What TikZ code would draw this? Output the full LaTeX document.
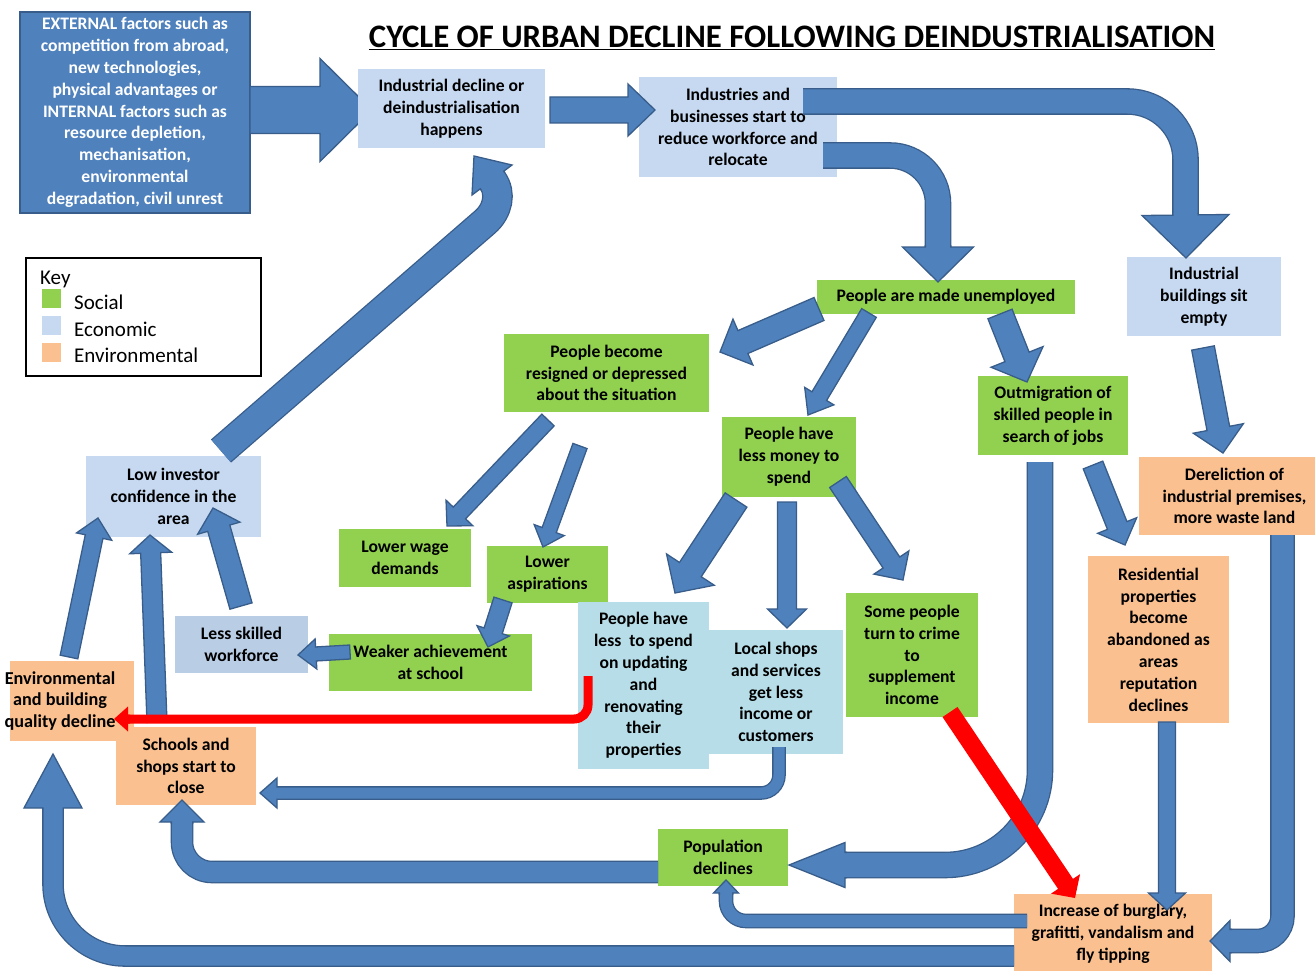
\documentclass[tikz,border=0pt]{standalone}
\usepackage{fontspec}
\setmainfont{Carlito}
\usetikzlibrary{calc}
\definecolor{abfill}{HTML}{4F81BD}
\definecolor{abord}{HTML}{385D8A}
\definecolor{econ}{HTML}{C6D9F1}
\definecolor{econb}{HTML}{B9CDE5}
\definecolor{soc}{HTML}{92D050}
\definecolor{envc}{HTML}{FAC090}
\definecolor{cyanb}{HTML}{B7DEE8}
\definecolor{redc}{HTML}{FF0000}
\newcommand\fs{\fontsize{17.6}{21.8}\selectfont}
\tikzset{
  bx/.style={inner sep=0pt, outer sep=0pt, draw=none, align=center, font=\fs\bfseries},
  shaft/.style={draw=abord, line width=1.3pt, double=abfill, double distance=#1},
  ahd/.style={fill=abfill, draw=abord, line width=1.3pt, line join=miter},
  rhd/.style={fill=redc, draw=none},
}
% head of a curved arrow: style, base, tip, half shaft, half head
\newcommand\ahead[5]{%
  \coordinate (hB) at (#2); \coordinate (hT) at (#3);
  \coordinate (hS) at ($(hB)!-2pt!(hT)$);
  \path[#1] ($(hS)!#4!90:(hT)$) -- ($(hB)!#4!90:(hT)$) -- ($(hB)!#5!90:(hT)$) -- (hT)
     -- ($(hB)!#5!-90:(hT)$) -- ($(hB)!#4!-90:(hT)$) -- ($(hS)!#4!-90:(hT)$);
}
% straight block arrow: style, tail, tip, half shaft, half head, head length
\newcommand\sarrow[6]{%
  \coordinate (sA) at (#2); \coordinate (sT) at (#3);
  \coordinate (sH) at ($(sT)!#6!(sA)$);
  \path[#1] ($(sA)!#4!90:(sT)$) -- ($(sH)!#4!90:(sT)$) -- ($(sH)!#5!90:(sT)$) -- (sT)
     -- ($(sH)!#5!-90:(sT)$) -- ($(sH)!#4!-90:(sT)$) -- ($(sA)!#4!-90:(sT)$) -- cycle;
}
\begin{document}
\begin{tikzpicture}[x=1pt,y=-1pt]
\useasboundingbox (0,0) rectangle (1315,971);
\fill[white] (0,0) rectangle (1315,971);

% external factors box
\node[bx, fill=abfill, draw=abord, line width=2.5pt, text=white, minimum width=230pt, minimum height=201pt] (ext) at (135,112.5)
 {EXTERNAL factors such as\\competition from abroad,\\new technologies,\\physical advantages or\\INTERNAL factors such as\\resource depletion,\\mechanisation,\\environmental\\degradation, civil unrest};

% arrow ext -> ind (under the box)
\coordinate (a1s) at (250,110); \coordinate (a1t) at (372,110);
\sarrow{ahd}{a1s}{a1t}{23.5pt}{51.5pt}{52pt}

% boxes
\node[bx, fill=econ, minimum width=187pt, minimum height=79pt] (ind) at (451.5,108.5) {Industrial decline or\\deindustrialisation\\happens};
\node[bx, fill=econ, minimum width=198pt, minimum height=100pt] (rel) at (738,127) {Industries and\\businesses start to\\reduce workforce and\\relocate};
\node[bx, fill=econ, minimum width=154pt, minimum height=79pt] (empty) at (1204,296.5) {Industrial\\buildings sit\\empty};
\node[bx, fill=soc, minimum width=258pt, minimum height=34pt] (unemp) at (946,297) {People are made unemployed};
\node[bx, fill=soc, minimum width=205pt, minimum height=78pt] (resig) at (606.5,373) {People become\\resigned or depressed\\about the situation};
\node[bx, fill=soc, minimum width=134pt, minimum height=80pt] (money) at (789,457) {People have\\less money to\\spend};
\node[bx, fill=soc, minimum width=150pt, minimum height=79pt] (outmig) at (1053,415.5) {Outmigration of\\skilled people in\\search of jobs};
\node[bx, fill=envc, minimum width=191pt, minimum height=78pt] (derel) at (1234.5,496) {Dereliction of\\industrial premises,\\more waste land};
\node[bx, fill=envc, minimum width=141pt, minimum height=167pt] (resid) at (1158.5,639.5) {Residential\\properties\\become\\abandoned as\\areas\\reputation\\declines};
\node[bx, fill=econ, minimum width=175pt, minimum height=81pt] (lowinv) at (173.5,496.5) {Low investor\\confidence in the\\area};
\node[bx, fill=soc, minimum width=132pt, minimum height=58pt] (wage) at (405,558) {Lower wage\\demands};
\node[bx, fill=soc, minimum width=121pt, minimum height=57pt] (aspir) at (547.5,574.5) {Lower\\aspirations};
\node[bx, fill=soc, minimum width=203pt, minimum height=57pt] (weak) at (430.5,662.5) {Weaker achievement\\at school};
\node[bx, fill=econb, minimum width=133pt, minimum height=57pt] (skill) at (241.5,644.5) {Less skilled\\workforce};
\node[bx, fill=cyanb, minimum width=131pt, minimum height=167pt] (renov) at (643.5,685.5) {People have\\less\ \ to spend\\on updating\\and\\renovating\\their\\properties};
\node[bx, fill=cyanb, minimum width=134pt, minimum height=124pt] (shops) at (776,692) {Local shops\\and services\\get less\\income or\\customers};
\node[bx, fill=soc, minimum width=132pt, minimum height=124pt] (crime) at (912,655) {Some people\\turn to crime\\to\\supplement\\income};
\node[bx, fill=envc, minimum width=124pt, minimum height=80pt] (envq) at (72,701) {};
\node[bx, font=\fontsize{18.2}{21.8}\selectfont\bfseries] (envqT) at (60,701) {Environmental\\and building\\quality decline};
\node[bx, fill=envc, minimum width=140pt, minimum height=78pt] (school) at (186,766) {Schools and\\shops start to\\close};
\node[bx, fill=soc, minimum width=130pt, minimum height=57pt] (pop) at (723,857.5) {Population\\declines};
\node[bx, fill=envc, minimum width=198pt, minimum height=86pt] (burg) at (1113,937) {};
\node[bx] (burgT) at (1113,934) {Increase of burglary,\\grafitti, vandalism and\\fly tipping};

% key
\node[draw=black, line width=1.3pt, inner sep=0pt, minimum width=235pt, minimum height=118pt] (key) at (143.5,317) {};
\node[fill=soc, inner sep=0pt, minimum size=19pt] (ksoc) at (51,298) {};
\node[fill=econ, inner sep=0pt, minimum size=19pt] (keco) at (51,325) {};
\node[fill=envc, inner sep=0pt, minimum size=19pt] (kenv) at (51,352) {};
\tikzset{keyt/.style={anchor=base west, inner sep=0pt, font=\fontsize{21}{25}\selectfont}}
\node[keyt] (kt) at (40,284) {Key};
\node[keyt] (kt1) at (74,309) {Social};
\node[keyt] (kt2) at (74,336) {Economic};
\node[keyt] (kt3) at (74,362) {Environmental};

% title
\node[anchor=base, inner sep=0pt, font=\fontsize{32.8}{38}\selectfont\bfseries] (title) at (792,48)
 {\underline{CYCLE OF URBAN DECLINE FOLLOWING DEINDUSTRIALISATION}};

% ---- arrows ----
\coordinate (a2s) at (550,110); \coordinate (a2t) at (655,110);
\sarrow{ahd}{a2s}{a2t}{13pt}{26pt}{27pt}

\coordinate (a3s) at (803,101.5); \coordinate (a3b) at (1185.5,215); \coordinate (a3t) at (1186,258);
\draw[shaft=24pt, rounded corners=58pt] (a3s) -- (a3s -| a3b) -- (a3b);
\ahead{ahd}{a3b}{a3t}{12.65pt}{43.5pt}

\coordinate (a4s) at (823,155.5); \coordinate (a4b) at (938,247); \coordinate (a4t) at (938,282);
\draw[shaft=24pt, rounded corners=48pt] (a4s) -- (a4s -| a4b) -- (a4b);
\ahead{ahd}{a4b}{a4t}{12.65pt}{35.5pt}

\coordinate (a5s) at (819,309); \coordinate (a5t) at (720,352);
\sarrow{ahd}{a5s}{a5t}{12.5pt}{25pt}{25pt}
\coordinate (a6s) at (869,313); \coordinate (a6t) at (808,415);
\sarrow{ahd}{a6s}{a6t}{8.5pt}{17pt}{22pt}
\coordinate (a7s) at (1000,314); \coordinate (a7t) at (1027,382);
\sarrow{ahd}{a7s}{a7t}{13pt}{28pt}{27pt}
\coordinate (a8s) at (1203,348); \coordinate (a8t) at (1223,453);
\sarrow{ahd}{a8s}{a8t}{11.5pt}{25.5pt}{25pt}
\coordinate (a9s) at (548,420); \coordinate (a9t) at (447,526);
\sarrow{ahd}{a9s}{a9t}{8.5pt}{18.5pt}{18pt}
\coordinate (a10s) at (580,446); \coordinate (a10t) at (543,547);
\sarrow{ahd}{a10s}{a10t}{7.5pt}{16pt}{18pt}
\coordinate (a11s) at (736,500); \coordinate (a11t) at (675,593);
\sarrow{ahd}{a11s}{a11t}{13pt}{28.5pt}{28pt}
\coordinate (a12s) at (787,502); \coordinate (a12t) at (787,628);
\sarrow{ahd}{a12s}{a12t}{9.5pt}{19.5pt}{19pt}
\coordinate (a13s) at (838,482); \coordinate (a13t) at (903,580);
\sarrow{ahd}{a13s}{a13t}{10pt}{21pt}{21pt}
\coordinate (a14s) at (503,600); \coordinate (a14t) at (488,647);
\sarrow{ahd}{a14s}{a14t}{9.5pt}{17pt}{17pt}
\coordinate (a15s) at (350,652); \coordinate (a15t) at (298,655);
\sarrow{ahd}{a15s}{a15t}{7pt}{15pt}{18pt}
\coordinate (a16s) at (241,606); \coordinate (a16t) at (213,508);
\sarrow{ahd}{a16s}{a16t}{11.5pt}{22pt}{21pt}

\coordinate (a17s) at (221,451); \coordinate (a17m) at (485,222); \coordinate (a17b) at (492,180); \coordinate (a17t) at (474,156);
\draw[shaft=28pt] (a17s) -- (a17m) to[out=41,in=-53] (a17b);
\ahead{ahd}{a17b}{a17t}{14.65pt}{25pt}

\coordinate (a18s) at (69,657); \coordinate (a18t) at (98,518);
\sarrow{ahd}{a18s}{a18t}{9pt}{18pt}{19pt}
\coordinate (a19s) at (157,722); \coordinate (a19t) at (150,535);
\sarrow{ahd}{a19s}{a19t}{10pt}{21pt}{18pt}

\coordinate (a21s) at (779,747); \coordinate (a21b) at (277,793); \coordinate (a21t) at (260,793);
\draw[shaft=11pt, rounded corners=18pt] (a21s) -- (a21s |- a21b) -- (a21b);
\ahead{ahd}{a21b}{a21t}{6.15pt}{15pt}

\coordinate (a23s) at (1040,462); \coordinate (a23b) at (845,865); \coordinate (a23t) at (789,865);
\draw[shaft=24pt, rounded corners=95pt] (a23s) -- (a23s |- a23b) -- (a23b);
\ahead{ahd}{a23b}{a23t}{12.65pt}{22.5pt}

\coordinate (a24s) at (1093,465); \coordinate (a24t) at (1125,545);
\sarrow{ahd}{a24s}{a24t}{10.5pt}{21pt}{21pt}

\coordinate (a25s) at (1282.5,535); \coordinate (a25b) at (1230,941); \coordinate (a25t) at (1210,941);
\draw[shaft=22pt, rounded corners=25pt] (a25s) -- (a25s |- a25b) -- (a25b);
\ahead{ahd}{a25b}{a25t}{11.65pt}{20.5pt}

\coordinate (a26s) at (1167,722); \coordinate (a26t) at (1167,910);
\sarrow{ahd}{a26s}{a26t}{8.5pt}{18.5pt}{17pt}

\coordinate (a27s) at (1027,921); \coordinate (a27b) at (726,893); \coordinate (a27t) at (726,880);
\draw[shaft=12pt, rounded corners=20pt] (a27s) -- (a27s -| a27b) -- (a27b);
\ahead{ahd}{a27b}{a27t}{6.65pt}{12.5pt}

\coordinate (a28s) at (1014,956); \coordinate (a28b) at (53,808); \coordinate (a28t) at (53,754);
\draw[shaft=19pt, rounded corners=72pt] (a28s) -- (a28s -| a28b) -- (a28b);
\ahead{ahd}{a28b}{a28t}{10.15pt}{29pt}

\coordinate (a29s) at (658,872); \coordinate (a29b) at (182,822); \coordinate (a29t) at (182,800);
\draw[shaft=20pt, rounded corners=30pt] (a29s) -- (a29s -| a29b) -- (a29b);
\ahead{ahd}{a29b}{a29t}{10.65pt}{22pt}

% red arrows
\coordinate (a20s) at (588,676); \coordinate (a20b) at (128,719); \coordinate (a20t) at (114,719);
\draw[redc, line width=9pt, rounded corners=14pt] (a20s) -- (a20s |- a20b) -- (a20b);
\ahead{rhd}{a20b}{a20t}{4.5pt}{12.5pt}

\coordinate (a22s) at (950,712); \coordinate (a22t) at (1075,898);
\sarrow{rhd}{a22s}{a22t}{9pt}{17.5pt}{17pt}
\end{tikzpicture}
\end{document}
